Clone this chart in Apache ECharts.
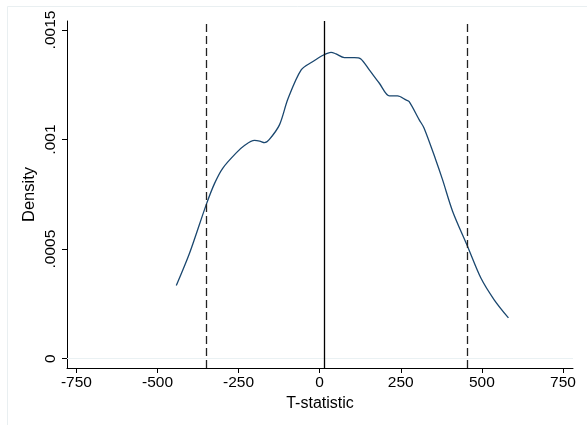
<!DOCTYPE html>
<html>
<head>
<meta charset="utf-8">
<script src="https://cdn.jsdelivr.net/npm/echarts@6/dist/echarts.min.js"></script>
<style>
html,body{margin:0;padding:0;background:#fff;}
#chart{width:587px;height:425px;}
</style>
</head>
<body>
<div id="chart"></div>
<script>
// T-statistic values (x) and kernel density (y)
const tStat = [-442, -401, -350, -324, -299, -258, -230, -201, -185, -170, -155, -124, -98, -57, -22, 12, 35, 50, 76, 107, 127, 153, 184, 215, 240, 266, 276, 307, 322, 358, 379, 410, 456, 497, 538, 582];
const density = [0.000334, 0.000482, 0.000702, 0.000800, 0.000869, 0.000938, 0.000975, 0.000996, 0.000993, 0.000986, 0.001001, 0.001067, 0.001185, 0.001318, 0.001355, 0.001386, 0.001398, 0.001391, 0.001374, 0.001374, 0.001368, 0.001318, 0.001257, 0.001199, 0.001199, 0.001181, 0.001173, 0.001090, 0.001052, 0.000907, 0.000816, 0.000672, 0.000512, 0.000368, 0.000269, 0.000186];
const xTicks = [-750, -500, -250, 0, 250, 500, 750];
const yTicks = [0, 0.0005, 0.001, 0.0015];
const yTickLabels = ['0', '.0005', '.001', '.0015'];
const dashedLines = [-349, 456];
const solidLines = [13.5];

const chart = echarts.init(document.getElementById('chart'), null, {renderer: 'canvas'});
const font = 'Liberation Sans, Arial, Helvetica, sans-serif';
const option = {
  animation: false,
  backgroundColor: '#ffffff',
  graphic: [{
    type: 'rect', silent: true, z: -10,
    shape: {x: 7.5, y: 6.5, width: 600, height: 440},
    style: {fill: 'none', stroke: '#e9eff1', lineWidth: 1}
  }],
  grid: {left: 67, right: 14, top: 21, bottom: 57},
  xAxis: {
    type: 'value', min: -779, max: 781,
    name: 'T-statistic', nameLocation: 'middle', nameGap: 24,
    nameTextStyle: {fontFamily: font, fontSize: 16, color: '#000'},
    axisLine: {show: true, onZero: false, lineStyle: {color: '#000', width: 1}},
    axisTick: {show: true, length: 5, lineStyle: {color: '#000'}, customValues: xTicks},
    axisLabel: {fontFamily: font, fontSize: 15.5, color: '#000', margin: 7, customValues: xTicks},
    splitLine: {show: false}
  },
  yAxis: {
    type: 'value', min: -0.0000424, max: 0.001541,
    name: 'Density', nameLocation: 'middle', nameGap: 29, nameMoveOverlap: false,
    nameTextStyle: {fontFamily: font, fontSize: 16.5, color: '#000'},
    axisLine: {show: true, onZero: false, lineStyle: {color: '#000', width: 1}},
    axisTick: {show: true, length: 5, lineStyle: {color: '#000'}, customValues: yTicks},
    axisLabel: {
      fontFamily: font, fontSize: 15.5, color: '#000', margin: 8, rotate: 90,
      customValues: yTicks,
      formatter: function (v) {
        const i = yTicks.findIndex(t => Math.abs(t - v) < 1e-9);
        return i >= 0 ? yTickLabels[i] : '';
      }
    },
    splitLine: {show: false}
  },
  series: [
    {
      type: 'line', data: [], silent: true,
      markLine: {
        silent: true, symbol: 'none', label: {show: false}, animation: false,
        lineStyle: {color: '#eaf1f3', width: 1, type: 'solid'},
        data: yTicks.map(v => ({yAxis: v}))
      }
    },
    {
      type: 'line',
      data: tStat.map((x, i) => [x, density[i]]),
      smooth: 0.3, showSymbol: false, symbol: 'none', silent: true,
      lineStyle: {color: '#1a476f', width: 1.3},
      z: 3
    },
    {
      type: 'line', data: [], silent: true, z: 4,
      markLine: {
        silent: true, symbol: 'none', label: {show: false}, animation: false,
        lineStyle: {color: '#222', width: 1.3, type: [8, 4]},
        data: dashedLines.map(v => ({xAxis: v}))
      }
    },
    {
      type: 'line', data: [], silent: true, z: 4,
      markLine: {
        silent: true, symbol: 'none', label: {show: false}, animation: false,
        lineStyle: {color: '#000', width: 1.3, type: 'solid'},
        data: solidLines.map(v => ({xAxis: v}))
      }
    }
  ]
};
chart.setOption(option);
</script>
</body>
</html>
